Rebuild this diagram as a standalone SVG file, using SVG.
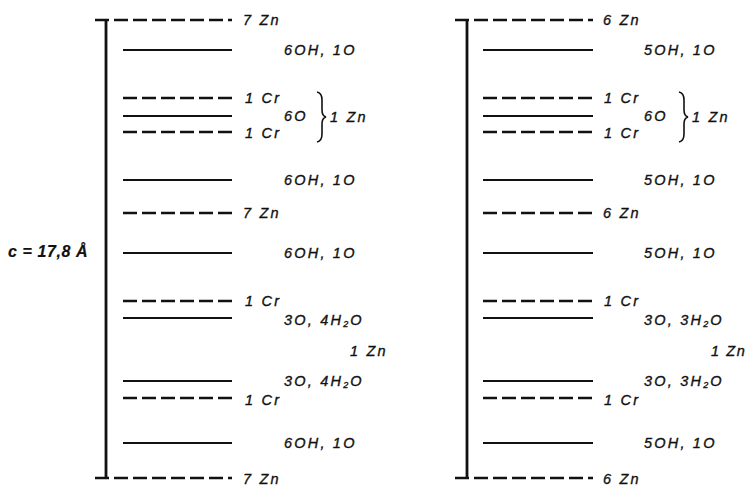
<svg xmlns="http://www.w3.org/2000/svg" width="748" height="486" viewBox="0 0 748 486">
<style>
.bg{fill:#fff}
.s{stroke:#111;stroke-width:2.2;fill:none}
.d{stroke:#111;stroke-width:2.4;fill:none;stroke-dasharray:14 5}
.bar{stroke:#111;stroke-width:2.8;fill:none}
.br{stroke:#111;stroke-width:1.6;fill:none}
text{font-family:"Liberation Sans",Arial,sans-serif;font-style:italic;font-size:14.5px;fill:#111;stroke:#111;stroke-width:0.35;letter-spacing:2.2px}
.c{font-weight:bold;font-size:16px;letter-spacing:0.6px;stroke-width:0.2}
.sub{font-size:9px}
.t{letter-spacing:1.6px}
</style>
<rect class="bg" width="748" height="486"/>
<g id="connectors">
<line class="bar" x1="106" y1="20" x2="106" y2="478"/>
<line class="bar" x1="467" y1="20" x2="467" y2="478"/>
</g>
<g id="left">
<line class="d" x1="95" y1="20" x2="232" y2="20"/>
<text x="243" y="25">7 Zn</text>
<line class="s" x1="123" y1="50" x2="232" y2="50"/>
<text x="284" y="55">6OH, 1O</text>
<line class="d" x1="123" y1="98" x2="232" y2="98"/>
<text x="245" y="103">1 Cr</text>
<line class="s" x1="123" y1="116" x2="232" y2="116"/>
<text x="284" y="121">6O</text>
<line class="d" x1="123" y1="132" x2="232" y2="132"/>
<text x="245" y="138">1 Cr</text>
<path class="br" d="M317,92 Q322,93 322,100 L322,110 Q322,116 326,117 Q322,118 322,124 L322,134 Q322,141 317,142"/>
<text x="330" y="122">1 Zn</text>
<line class="s" x1="123" y1="180" x2="232" y2="180"/>
<text x="284" y="185">6OH, 1O</text>
<line class="d" x1="123" y1="213" x2="232" y2="213"/>
<text x="243" y="218">7 Zn</text>
<text class="c" x="8" y="257">c = 17,8 Å</text>
<line class="s" x1="123" y1="253" x2="232" y2="253"/>
<text x="284" y="258">6OH, 1O</text>
<line class="d" x1="123" y1="301" x2="232" y2="301"/>
<text x="245" y="306">1 Cr</text>
<line class="s" x1="123" y1="318" x2="232" y2="318"/>
<text x="284" y="325">3O, 4H<tspan class="sub" dy="2">2</tspan><tspan dy="-2">O</tspan></text>
<text x="350" y="356">1 Zn</text>
<line class="s" x1="123" y1="381" x2="232" y2="381"/>
<text x="284" y="386">3O, 4H<tspan class="sub" dy="2">2</tspan><tspan dy="-2">O</tspan></text>
<line class="d" x1="123" y1="398" x2="232" y2="398"/>
<text x="245" y="405">1 Cr</text>
<line class="s" x1="123" y1="443" x2="232" y2="443"/>
<text x="284" y="448">6OH, 1O</text>
<line class="d" x1="95" y1="478" x2="232" y2="478"/>
<text x="243" y="484">7 Zn</text>
</g>
<g id="right">
<line class="d" x1="455" y1="20" x2="593" y2="20"/>
<text x="603" y="25">6 Zn</text>
<line class="s" x1="483" y1="50" x2="593" y2="50"/>
<text x="644" y="55">5OH, 1O</text>
<line class="d" x1="483" y1="98" x2="593" y2="98"/>
<text x="604" y="103">1 Cr</text>
<line class="s" x1="483" y1="116" x2="593" y2="116"/>
<text x="644" y="121">6O</text>
<line class="d" x1="483" y1="132" x2="593" y2="132"/>
<text x="604" y="138">1 Cr</text>
<path class="br" d="M679,92 Q684,93 684,100 L684,110 Q684,116 688,117 Q684,118 684,124 L684,134 Q684,141 679,142"/>
<text x="692" y="122">1 Zn</text>
<line class="s" x1="483" y1="180" x2="593" y2="180"/>
<text x="644" y="185">5OH, 1O</text>
<line class="d" x1="483" y1="213" x2="593" y2="213"/>
<text x="603" y="218">6 Zn</text>
<line class="s" x1="483" y1="253" x2="593" y2="253"/>
<text x="644" y="258">5OH, 1O</text>
<line class="d" x1="483" y1="301" x2="593" y2="301"/>
<text x="604" y="306">1 Cr</text>
<line class="s" x1="483" y1="318" x2="593" y2="318"/>
<text x="644" y="325">3O, 3H<tspan class="sub" dy="2">2</tspan><tspan dy="-2">O</tspan></text>
<text class="t" x="711" y="356">1 Zn</text>
<line class="s" x1="483" y1="381" x2="593" y2="381"/>
<text x="644" y="386">3O, 3H<tspan class="sub" dy="2">2</tspan><tspan dy="-2">O</tspan></text>
<line class="d" x1="483" y1="398" x2="593" y2="398"/>
<text x="604" y="405">1 Cr</text>
<line class="s" x1="483" y1="443" x2="593" y2="443"/>
<text x="644" y="448">5OH, 1O</text>
<line class="d" x1="455" y1="478" x2="593" y2="478"/>
<text x="603" y="484">6 Zn</text>
</g>
</svg>
